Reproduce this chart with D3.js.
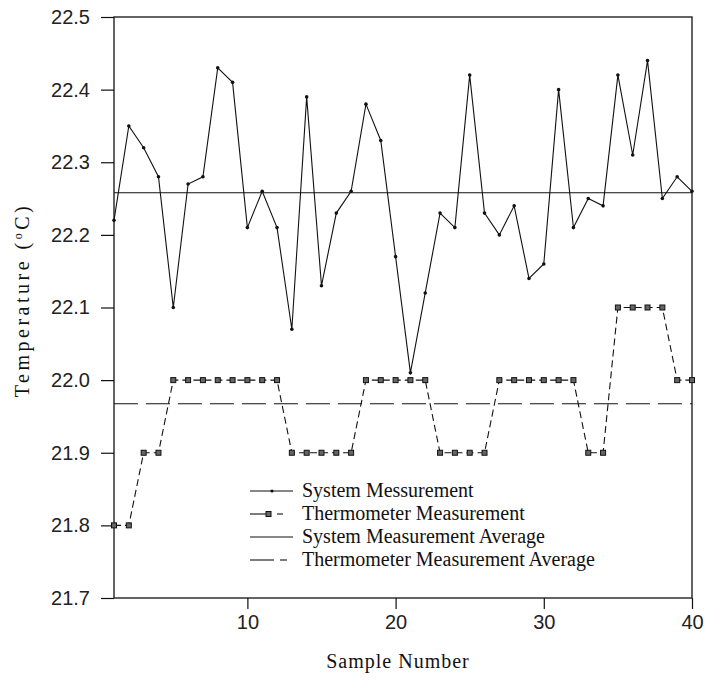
<!DOCTYPE html>
<html>
<head>
<meta charset="utf-8">
<script src="https://cdn.jsdelivr.net/npm/d3@7"></script>
<style>
  body { margin: 0; background: #fff; }
  svg { display: block; }
</style>
</head>
<body>
<svg id="chart" width="705" height="691"></svg>
<script>
// Sample index 1..40
const samples = d3.range(1, 41);

// Temperature readings (°C) from the measurement system
const systemTemps = [
  22.22, 22.35, 22.32, 22.28, 22.10, 22.27, 22.28, 22.43, 22.41, 22.21,
  22.26, 22.21, 22.07, 22.39, 22.13, 22.23, 22.26, 22.38, 22.33, 22.17,
  22.01, 22.12, 22.23, 22.21, 22.42, 22.23, 22.20, 22.24, 22.14, 22.16,
  22.40, 22.21, 22.25, 22.24, 22.42, 22.31, 22.44, 22.25, 22.28, 22.26
];

// Reference thermometer readings (°C), 0.1 °C resolution
const thermoTemps = [
  21.8, 21.8, 21.9, 21.9, 22.0, 22.0, 22.0, 22.0, 22.0, 22.0,
  22.0, 22.0, 21.9, 21.9, 21.9, 21.9, 21.9, 22.0, 22.0, 22.0,
  22.0, 22.0, 21.9, 21.9, 21.9, 21.9, 22.0, 22.0, 22.0, 22.0,
  22.0, 22.0, 21.9, 21.9, 22.1, 22.1, 22.1, 22.1, 22.0, 22.0
];

const yTicks = [21.7, 21.8, 21.9, 22.0, 22.1, 22.2, 22.3, 22.4, 22.5];
const xTicks = [10, 20, 30, 40];

const legendLabels = [
  "System Messurement",
  "Thermometer Measurement",
  "System Measurement Average",
  "Thermometer Measurement Average"
];

const systemAvg = d3.mean(systemTemps);
const thermoAvg = d3.mean(thermoTemps);

const plot = { left: 114, right: 692, top: 17, bottom: 598 };
const svg = d3.select("#chart");

const x = d3.scaleLinear().domain([1, 40]).range([plot.left, plot.right]);
const y = d3.scaleLinear().domain([21.7, 22.5]).range([plot.bottom, plot.top]);

const sansFont = "'Liberation Sans', Arial, sans-serif";
const serifFont = "'Liberation Serif', 'Times New Roman', serif";

// Axes
const yAxis = d3.axisLeft(y).tickValues(yTicks).tickFormat(d3.format(".1f"))
  .tickSize(13).tickPadding(11);
const xAxis = d3.axisBottom(x).tickValues(xTicks).tickFormat(d3.format("d"))
  .tickSize(11).tickPadding(6);

const gy = svg.append("g").attr("transform", `translate(${plot.left},0)`).call(yAxis);
const gx = svg.append("g").attr("transform", `translate(0,${plot.bottom})`).call(xAxis);
[gy, gx].forEach(g => {
  g.select(".domain").remove();
  g.selectAll(".tick line").attr("stroke", "#111").attr("stroke-width", 1.2);
  g.selectAll(".tick text").attr("fill", "#222")
    .style("font-family", sansFont).style("font-size", "20px");
});

// Plot frame
svg.append("rect")
  .attr("x", plot.left).attr("y", plot.top)
  .attr("width", plot.right - plot.left).attr("height", plot.bottom - plot.top)
  .attr("fill", "none").attr("stroke", "#111").attr("stroke-width", 1.3);

// Average lines
svg.append("line")
  .attr("x1", plot.left).attr("x2", plot.right)
  .attr("y1", y(systemAvg)).attr("y2", y(systemAvg))
  .attr("stroke", "#111").attr("stroke-width", 1.1);
svg.append("line")
  .attr("x1", plot.left).attr("x2", plot.right)
  .attr("y1", y(thermoAvg)).attr("y2", y(thermoAvg))
  .attr("stroke", "#111").attr("stroke-width", 1.1)
  .attr("stroke-dasharray", "24,8");

// Thermometer series: dashed line with square markers
const thermoLine = d3.line().x((d, i) => x(samples[i])).y(d => y(d));
svg.append("path").datum(thermoTemps)
  .attr("d", thermoLine)
  .attr("fill", "none").attr("stroke", "#111").attr("stroke-width", 1.1)
  .attr("stroke-dasharray", "7,4");
svg.append("g").selectAll("rect").data(thermoTemps).join("rect")
  .attr("x", (d, i) => x(samples[i]) - 2.5)
  .attr("y", d => y(d) - 2.5)
  .attr("width", 5).attr("height", 5)
  .attr("fill", "#666").attr("stroke", "#111").attr("stroke-width", 1);

// System series: solid line with small dot markers
const sysLine = d3.line().x((d, i) => x(samples[i])).y(d => y(d));
svg.append("path").datum(systemTemps)
  .attr("d", sysLine)
  .attr("fill", "none").attr("stroke", "#111").attr("stroke-width", 1.1);
svg.append("g").selectAll("circle").data(systemTemps).join("circle")
  .attr("cx", (d, i) => x(samples[i]))
  .attr("cy", d => y(d))
  .attr("r", 1.8).attr("fill", "#111");

// Legend
const legend = svg.append("g");
const legY = [491, 514, 537, 560];
const lx0 = 250, lx1 = 293, ltx = 302;
// row 1: system measurement
legend.append("line").attr("x1", lx0).attr("x2", lx1).attr("y1", legY[0]).attr("y2", legY[0])
  .attr("stroke", "#111").attr("stroke-width", 1.1);
legend.append("circle").attr("cx", 272).attr("cy", legY[0]).attr("r", 1.6).attr("fill", "#111");
// row 2: thermometer measurement
legend.append("line").attr("x1", lx0).attr("x2", 266).attr("y1", legY[1]).attr("y2", legY[1])
  .attr("stroke", "#111").attr("stroke-width", 1.1);
legend.append("rect").attr("x", 266).attr("y", legY[1] - 2.5).attr("width", 5).attr("height", 5)
  .attr("fill", "#666").attr("stroke", "#111").attr("stroke-width", 1);
legend.append("line").attr("x1", 277).attr("x2", 283).attr("y1", legY[1]).attr("y2", legY[1])
  .attr("stroke", "#111").attr("stroke-width", 1.1);
// row 3: system average
legend.append("line").attr("x1", lx0).attr("x2", lx1).attr("y1", legY[2]).attr("y2", legY[2])
  .attr("stroke", "#111").attr("stroke-width", 1.1);
// row 4: thermometer average
legend.append("line").attr("x1", lx0).attr("x2", 274).attr("y1", legY[3]).attr("y2", legY[3])
  .attr("stroke", "#111").attr("stroke-width", 1.1);
legend.append("line").attr("x1", 280).attr("x2", 287).attr("y1", legY[3]).attr("y2", legY[3])
  .attr("stroke", "#111").attr("stroke-width", 1.1);

legend.selectAll("text").data(legendLabels).join("text")
  .attr("x", ltx).attr("y", (d, i) => legY[i] + 6)
  .style("font-family", serifFont).style("font-size", "20px")
  .attr("fill", "#111")
  .text(d => d);

// Axis titles
svg.append("text")
  .attr("x", 398).attr("y", 668)
  .attr("text-anchor", "middle")
  .style("font-family", serifFont).style("font-size", "20px")
  .style("letter-spacing", "1px")
  .attr("fill", "#111")
  .text("Sample Number");

const yTitle = svg.append("text")
  .attr("transform", "translate(29,300) rotate(-90)")
  .attr("text-anchor", "middle")
  .style("font-family", serifFont).style("font-size", "20px")
  .style("letter-spacing", "3.5px")
  .attr("fill", "#111");
yTitle.append("tspan").text("Temperature (");
yTitle.append("tspan").attr("dy", -7).style("font-size", "12px").text("o");
yTitle.append("tspan").attr("dy", 7).text("C)");
</script>
</body>
</html>
